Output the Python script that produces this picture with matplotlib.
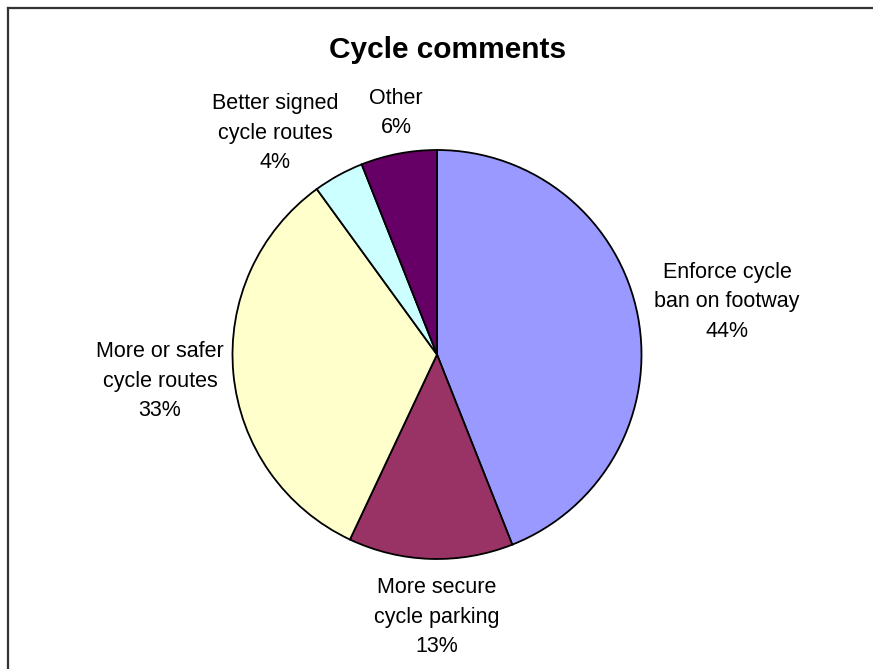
import matplotlib.pyplot as plt
from matplotlib.lines import Line2D

categories = ["Enforce cycle\nban on footway", "More secure\ncycle parking",
              "More or safer\ncycle routes", "Better signed\ncycle routes", "Other"]
percent = [44, 13, 33, 4, 6]
colors = ["#9999FF", "#993366", "#FFFFCC", "#CCFFFF", "#660066"]
# label centres in pixels (x from left, y from top)
label_px = [(727, 302), (437, 617), (160, 381), (275, 133), (396, 113)]

W, H = 873, 669
cx, cy, r = 437, 354.5, 204.5

plt.rcParams['font.family'] = ['Liberation Sans', 'DejaVu Sans']

fig = plt.figure(figsize=(W / 100, H / 100), dpi=100)
ax = fig.add_axes([0, 0, 1, 1])

wedges, _ = ax.pie(percent, colors=colors, startangle=90, counterclock=False,
                   radius=1, wedgeprops=dict(edgecolor='black', linewidth=1.3))

# pie() resets limits and aspect, so set the pixel mapping afterwards
ax.set_aspect('auto')
ax.set_xlim(-cx / r, (W - cx) / r)
ax.set_ylim(-(H - cy) / r, cy / r)
ax.axis('off')

for name, p, (px, py) in zip(categories, percent, label_px):
    ax.text((px - cx) / r, (cy - py) / r, f"{name}\n{p}%", ha='center', va='center',
            fontsize=15.5, linespacing=1.56)

fig.text(447.5 / W, 1 - 50 / H, "Cycle comments", ha='center', va='center',
         fontsize=21.5, fontweight='bold')

# chart border (left and top only, the rest is cropped)
fig.add_artist(Line2D([8 / W, 8 / W], [0, 1 - 7.5 / H], transform=fig.transFigure,
                      color='#333333', linewidth=1.6))
fig.add_artist(Line2D([8 / W, 1], [1 - 7.5 / H, 1 - 7.5 / H], transform=fig.transFigure,
                      color='#333333', linewidth=1.6))

fig.savefig("out.png", dpi=100)
